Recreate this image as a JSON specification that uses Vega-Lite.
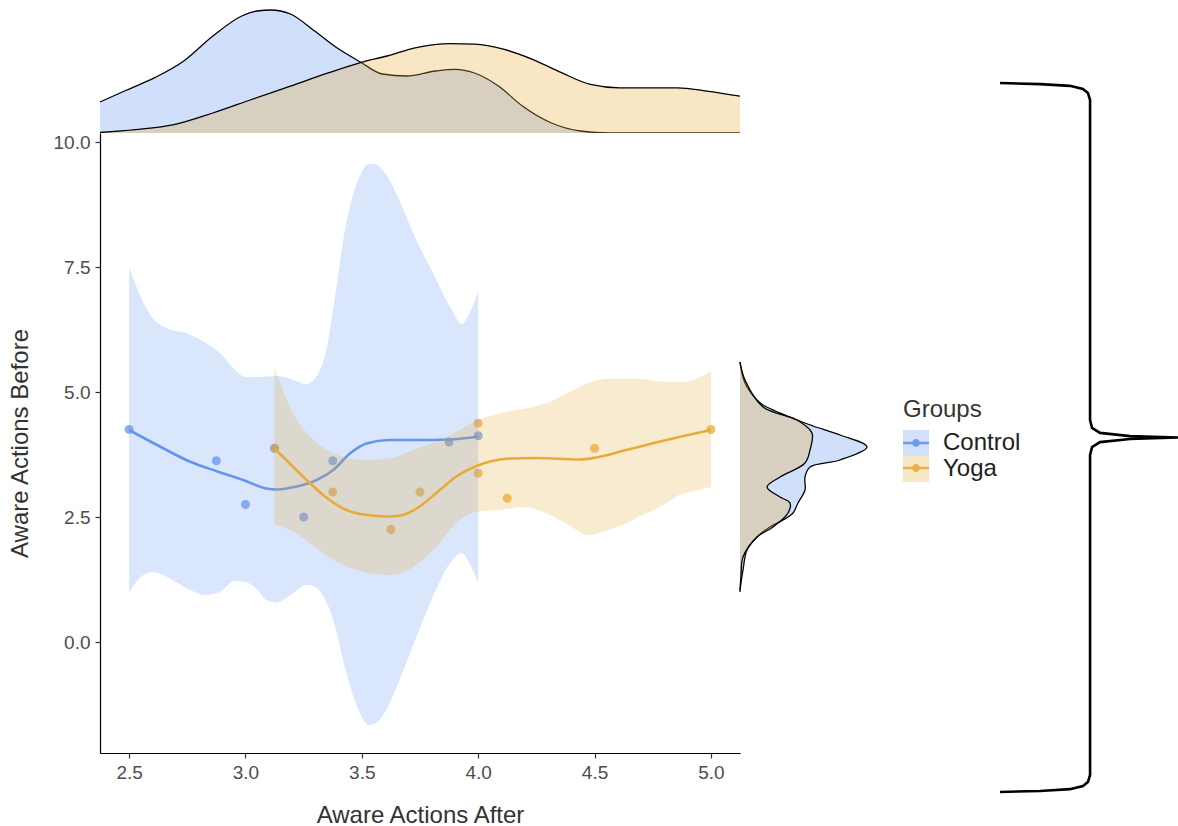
{
  "$schema": "https://vega.github.io/schema/vega-lite/v6.json",
  "padding": {"left": 8, "top": 0, "right": 0, "bottom": 0},
  "background": "white",
  "config": {
    "font": "Liberation Sans",
    "view": {"stroke": null},
    "axis": {
      "domainColor": "#000000", "domainWidth": 1.2,
      "tickColor": "#333333", "tickWidth": 1.2, "tickSize": 5,
      "labelColor": "#4D4D4D", "labelFontSize": 19, "labelPadding": 5,
      "titleFontSize": 24, "titleColor": "#333333", "titleFontWeight": "normal",
      "grid": false
    },
    "axisX": {"titlePadding": 21},
    "axisY": {"titlePadding": 21}
  },
  "datasets": {
    "pts": [
      {"x": 2.5, "y": 4.25, "group": "Control"},
      {"x": 2.875, "y": 3.625, "group": "Control"},
      {"x": 3.0, "y": 2.75, "group": "Control"},
      {"x": 3.125, "y": 3.875, "group": "Control"},
      {"x": 3.25, "y": 2.5, "group": "Control"},
      {"x": 3.375, "y": 3.625, "group": "Control"},
      {"x": 3.875, "y": 4.0, "group": "Control"},
      {"x": 4.0, "y": 4.125, "group": "Control"},
      {"x": 3.125, "y": 3.875, "group": "Yoga"},
      {"x": 3.375, "y": 3.0, "group": "Yoga"},
      {"x": 3.625, "y": 2.25, "group": "Yoga"},
      {"x": 3.75, "y": 3.0, "group": "Yoga"},
      {"x": 4.0, "y": 4.375, "group": "Yoga"},
      {"x": 4.0, "y": 3.375, "group": "Yoga"},
      {"x": 4.125, "y": 2.875, "group": "Yoga"},
      {"x": 4.5, "y": 3.875, "group": "Yoga"},
      {"x": 5.0, "y": 4.25, "group": "Yoga"}
    ],
    "fit": [
      {"x": 2.5, "y": 4.24, "group": "Control"},
      {"x": 2.62, "y": 3.94, "group": "Control"},
      {"x": 2.76, "y": 3.61, "group": "Control"},
      {"x": 2.88, "y": 3.41, "group": "Control"},
      {"x": 2.99, "y": 3.24, "group": "Control"},
      {"x": 3.09, "y": 3.07, "group": "Control"},
      {"x": 3.134, "y": 3.05, "group": "Control"},
      {"x": 3.22, "y": 3.11, "group": "Control"},
      {"x": 3.306, "y": 3.24, "group": "Control"},
      {"x": 3.377, "y": 3.44, "group": "Control"},
      {"x": 3.449, "y": 3.77, "group": "Control"},
      {"x": 3.52, "y": 3.97, "group": "Control"},
      {"x": 3.62, "y": 4.04, "group": "Control"},
      {"x": 3.735, "y": 4.04, "group": "Control"},
      {"x": 3.878, "y": 4.05, "group": "Control"},
      {"x": 4.0, "y": 4.11, "group": "Control"},
      {"x": 3.125, "y": 3.87, "group": "Yoga"},
      {"x": 3.19, "y": 3.57, "group": "Yoga"},
      {"x": 3.263, "y": 3.24, "group": "Yoga"},
      {"x": 3.334, "y": 2.94, "group": "Yoga"},
      {"x": 3.42, "y": 2.67, "group": "Yoga"},
      {"x": 3.52, "y": 2.54, "group": "Yoga"},
      {"x": 3.62, "y": 2.51, "group": "Yoga"},
      {"x": 3.677, "y": 2.54, "group": "Yoga"},
      {"x": 3.749, "y": 2.71, "group": "Yoga"},
      {"x": 3.835, "y": 3.04, "group": "Yoga"},
      {"x": 3.906, "y": 3.31, "group": "Yoga"},
      {"x": 3.992, "y": 3.52, "group": "Yoga"},
      {"x": 4.06, "y": 3.62, "group": "Yoga"},
      {"x": 4.135, "y": 3.67, "group": "Yoga"},
      {"x": 4.25, "y": 3.68, "group": "Yoga"},
      {"x": 4.436, "y": 3.65, "group": "Yoga"},
      {"x": 4.507, "y": 3.69, "group": "Yoga"},
      {"x": 4.636, "y": 3.84, "group": "Yoga"},
      {"x": 4.836, "y": 4.07, "group": "Yoga"},
      {"x": 5.0, "y": 4.24, "group": "Yoga"}
    ],
    "band": [
      {"x": 2.5, "lo": 1.0, "hi": 7.5, "group": "Control"},
      {"x": 2.55, "lo": 1.3, "hi": 6.9, "group": "Control"},
      {"x": 2.6, "lo": 1.4, "hi": 6.48, "group": "Control"},
      {"x": 2.66, "lo": 1.31, "hi": 6.28, "group": "Control"},
      {"x": 2.75, "lo": 1.07, "hi": 6.17, "group": "Control"},
      {"x": 2.83, "lo": 0.94, "hi": 5.98, "group": "Control"},
      {"x": 2.89, "lo": 1.0, "hi": 5.78, "group": "Control"},
      {"x": 2.95, "lo": 1.22, "hi": 5.47, "group": "Control"},
      {"x": 3.0, "lo": 1.2, "hi": 5.3, "group": "Control"},
      {"x": 3.05, "lo": 1.05, "hi": 5.3, "group": "Control"},
      {"x": 3.09, "lo": 0.84, "hi": 5.31, "group": "Control"},
      {"x": 3.13, "lo": 0.79, "hi": 5.32, "group": "Control"},
      {"x": 3.2, "lo": 0.96, "hi": 5.25, "group": "Control"},
      {"x": 3.26, "lo": 1.14, "hi": 5.16, "group": "Control"},
      {"x": 3.3, "lo": 1.1, "hi": 5.28, "group": "Control"},
      {"x": 3.35, "lo": 0.78, "hi": 5.9, "group": "Control"},
      {"x": 3.38, "lo": 0.4, "hi": 6.75, "group": "Control"},
      {"x": 3.43, "lo": -0.55, "hi": 8.3, "group": "Control"},
      {"x": 3.49, "lo": -1.4, "hi": 9.3, "group": "Control"},
      {"x": 3.53, "lo": -1.66, "hi": 9.56, "group": "Control"},
      {"x": 3.56, "lo": -1.62, "hi": 9.55, "group": "Control"},
      {"x": 3.6, "lo": -1.4, "hi": 9.38, "group": "Control"},
      {"x": 3.66, "lo": -0.78, "hi": 8.85, "group": "Control"},
      {"x": 3.73, "lo": 0.05, "hi": 8.08, "group": "Control"},
      {"x": 3.8, "lo": 0.85, "hi": 7.43, "group": "Control"},
      {"x": 3.88, "lo": 1.58, "hi": 6.7, "group": "Control"},
      {"x": 3.93, "lo": 1.78, "hi": 6.36, "group": "Control"},
      {"x": 3.96, "lo": 1.6, "hi": 6.55, "group": "Control"},
      {"x": 4.0, "lo": 1.17, "hi": 7.0, "group": "Control"},
      {"x": 3.125, "lo": 2.34, "hi": 5.5, "group": "Yoga"},
      {"x": 3.16, "lo": 2.3, "hi": 5.04, "group": "Yoga"},
      {"x": 3.205, "lo": 2.21, "hi": 4.57, "group": "Yoga"},
      {"x": 3.28, "lo": 1.97, "hi": 4.1, "group": "Yoga"},
      {"x": 3.38, "lo": 1.64, "hi": 3.77, "group": "Yoga"},
      {"x": 3.5, "lo": 1.41, "hi": 3.64, "group": "Yoga"},
      {"x": 3.62, "lo": 1.34, "hi": 3.67, "group": "Yoga"},
      {"x": 3.72, "lo": 1.5, "hi": 3.84, "group": "Yoga"},
      {"x": 3.82, "lo": 1.9, "hi": 4.0, "group": "Yoga"},
      {"x": 3.92, "lo": 2.44, "hi": 4.24, "group": "Yoga"},
      {"x": 4.0, "lo": 2.61, "hi": 4.44, "group": "Yoga"},
      {"x": 4.09, "lo": 2.64, "hi": 4.57, "group": "Yoga"},
      {"x": 4.2, "lo": 2.7, "hi": 4.67, "group": "Yoga"},
      {"x": 4.29, "lo": 2.58, "hi": 4.77, "group": "Yoga"},
      {"x": 4.38, "lo": 2.37, "hi": 4.97, "group": "Yoga"},
      {"x": 4.47, "lo": 2.14, "hi": 5.17, "group": "Yoga"},
      {"x": 4.56, "lo": 2.24, "hi": 5.27, "group": "Yoga"},
      {"x": 4.66, "lo": 2.43, "hi": 5.27, "group": "Yoga"},
      {"x": 4.71, "lo": 2.55, "hi": 5.26, "group": "Yoga"},
      {"x": 4.78, "lo": 2.7, "hi": 5.21, "group": "Yoga"},
      {"x": 4.88, "lo": 2.97, "hi": 5.2, "group": "Yoga"},
      {"x": 4.91, "lo": 3.0, "hi": 5.22, "group": "Yoga"},
      {"x": 5.0, "lo": 3.1, "hi": 5.42, "group": "Yoga"}
    ],
    "topdens": [
      {"x": 2.375, "d": 0.31, "group": "Control"},
      {"x": 2.49, "d": 0.43, "group": "Control"},
      {"x": 2.61, "d": 0.553, "group": "Control"},
      {"x": 2.735, "d": 0.72, "group": "Control"},
      {"x": 2.86, "d": 0.97, "group": "Control"},
      {"x": 2.984, "d": 1.17, "group": "Control"},
      {"x": 3.05, "d": 1.22, "group": "Control"},
      {"x": 3.109, "d": 1.23, "group": "Control"},
      {"x": 3.193, "d": 1.19, "group": "Control"},
      {"x": 3.297, "d": 1.02, "group": "Control"},
      {"x": 3.401, "d": 0.84, "group": "Control"},
      {"x": 3.494, "d": 0.71, "group": "Control"},
      {"x": 3.588, "d": 0.59, "group": "Control"},
      {"x": 3.692, "d": 0.57, "group": "Control"},
      {"x": 3.817, "d": 0.62, "group": "Control"},
      {"x": 3.9, "d": 0.636, "group": "Control"},
      {"x": 3.984, "d": 0.6, "group": "Control"},
      {"x": 4.087, "d": 0.47, "group": "Control"},
      {"x": 4.19, "d": 0.27, "group": "Control"},
      {"x": 4.315, "d": 0.1, "group": "Control"},
      {"x": 4.439, "d": 0.02, "group": "Control"},
      {"x": 4.566, "d": 0.0, "group": "Control"},
      {"x": 5.125, "d": 0.0, "group": "Control"},
      {"x": 2.375, "d": 0.005, "group": "Yoga"},
      {"x": 2.527, "d": 0.034, "group": "Yoga"},
      {"x": 2.693, "d": 0.084, "group": "Yoga"},
      {"x": 2.86, "d": 0.2, "group": "Yoga"},
      {"x": 3.026, "d": 0.335, "group": "Yoga"},
      {"x": 3.193, "d": 0.469, "group": "Yoga"},
      {"x": 3.359, "d": 0.603, "group": "Yoga"},
      {"x": 3.494, "d": 0.704, "group": "Yoga"},
      {"x": 3.609, "d": 0.77, "group": "Yoga"},
      {"x": 3.734, "d": 0.854, "group": "Yoga"},
      {"x": 3.879, "d": 0.894, "group": "Yoga"},
      {"x": 3.984, "d": 0.888, "group": "Yoga"},
      {"x": 4.108, "d": 0.838, "group": "Yoga"},
      {"x": 4.233, "d": 0.737, "group": "Yoga"},
      {"x": 4.358, "d": 0.603, "group": "Yoga"},
      {"x": 4.482, "d": 0.486, "group": "Yoga"},
      {"x": 4.607, "d": 0.452, "group": "Yoga"},
      {"x": 4.733, "d": 0.452, "group": "Yoga"},
      {"x": 4.857, "d": 0.452, "group": "Yoga"},
      {"x": 4.982, "d": 0.419, "group": "Yoga"},
      {"x": 5.125, "d": 0.368, "group": "Yoga"}
    ],
    "rightdens": [
      {"v": 5.6, "d": 0.0, "group": "Control"},
      {"v": 5.18, "d": 0.05, "group": "Control"},
      {"v": 4.84, "d": 0.17, "group": "Control"},
      {"v": 4.74, "d": 0.23, "group": "Control"},
      {"v": 4.44, "d": 0.57, "group": "Control"},
      {"v": 4.32, "d": 0.73, "group": "Control"},
      {"v": 4.14, "d": 1.0, "group": "Control"},
      {"v": 3.9, "d": 1.27, "group": "Control"},
      {"v": 3.64, "d": 1.0, "group": "Control"},
      {"v": 3.5, "d": 0.7, "group": "Control"},
      {"v": 3.3, "d": 0.65, "group": "Control"},
      {"v": 3.04, "d": 0.65, "group": "Control"},
      {"v": 2.78, "d": 0.58, "group": "Control"},
      {"v": 2.58, "d": 0.53, "group": "Control"},
      {"v": 2.44, "d": 0.43, "group": "Control"},
      {"v": 2.3, "d": 0.3, "group": "Control"},
      {"v": 2.1, "d": 0.17, "group": "Control"},
      {"v": 1.84, "d": 0.07, "group": "Control"},
      {"v": 1.44, "d": 0.03, "group": "Control"},
      {"v": 1.04, "d": 0.0, "group": "Control"},
      {"v": 5.6, "d": 0.0, "group": "Yoga"},
      {"v": 5.24, "d": 0.05, "group": "Yoga"},
      {"v": 4.7, "d": 0.23, "group": "Yoga"},
      {"v": 4.44, "d": 0.57, "group": "Yoga"},
      {"v": 4.18, "d": 0.72, "group": "Yoga"},
      {"v": 3.84, "d": 0.7, "group": "Yoga"},
      {"v": 3.58, "d": 0.65, "group": "Yoga"},
      {"v": 3.3, "d": 0.4, "group": "Yoga"},
      {"v": 3.1, "d": 0.27, "group": "Yoga"},
      {"v": 2.9, "d": 0.4, "group": "Yoga"},
      {"v": 2.78, "d": 0.5, "group": "Yoga"},
      {"v": 2.58, "d": 0.48, "group": "Yoga"},
      {"v": 2.3, "d": 0.33, "group": "Yoga"},
      {"v": 2.1, "d": 0.17, "group": "Yoga"},
      {"v": 1.7, "d": 0.03, "group": "Yoga"},
      {"v": 1.34, "d": 0.01, "group": "Yoga"},
      {"v": 1.0, "d": 0.0, "group": "Yoga"}
    ],
    "brace": [
      {"i": 0, "bx": 0, "by": 1.0},
      {"i": 1, "bx": 0.225, "by": 0.997},
      {"i": 2, "bx": 0.393, "by": 0.992},
      {"i": 3, "bx": 0.466, "by": 0.983},
      {"i": 4, "bx": 0.494, "by": 0.972},
      {"i": 5, "bx": 0.506, "by": 0.952},
      {"i": 6, "bx": 0.506, "by": 0.049},
      {"i": 7, "bx": 0.517, "by": 0.027},
      {"i": 8, "bx": 0.562, "by": 0.013},
      {"i": 9, "bx": 0.73, "by": 0.004},
      {"i": 10, "bx": 1.0, "by": 0.0},
      {"i": 11, "bx": 0.73, "by": -0.004},
      {"i": 12, "bx": 0.562, "by": -0.013},
      {"i": 13, "bx": 0.517, "by": -0.027},
      {"i": 14, "bx": 0.506, "by": -0.049},
      {"i": 15, "bx": 0.506, "by": -0.952},
      {"i": 16, "bx": 0.494, "by": -0.972},
      {"i": 17, "bx": 0.466, "by": -0.983},
      {"i": 18, "bx": 0.393, "by": -0.992},
      {"i": 19, "bx": 0.225, "by": -0.997},
      {"i": 20, "bx": 0, "by": -1.0}
    ]
  },
  "spacing": 0,
  "bounds": "flush",
  "vconcat": [
    {
      "width": 640,
      "height": 133,
      "data": {"name": "topdens"},
      "encoding": {
        "x": {"field": "x", "type": "quantitative", "scale": {"domain": [2.375, 5.125], "nice": false, "zero": false}, "axis": null},
        "y": {"field": "d", "type": "quantitative", "scale": {"domain": [0, 1.33], "nice": false}, "axis": null}
      },
      "layer": [
        {"transform": [{"filter": "datum.group === 'Control'"}], "mark": {"type": "area", "color": "#6495ED", "opacity": 0.3, "clip": true, "interpolate": "monotone"}},
        {"transform": [{"filter": "datum.group === 'Control'"}], "mark": {"type": "line", "color": "#000000", "strokeWidth": 1.3, "clip": true, "interpolate": "monotone"}},
        {"transform": [{"filter": "datum.group === 'Yoga'"}], "mark": {"type": "area", "color": "#E8AB3A", "opacity": 0.3, "clip": true, "interpolate": "monotone"}},
        {"transform": [{"filter": "datum.group === 'Yoga'"}], "mark": {"type": "line", "color": "#000000", "strokeWidth": 1.3, "clip": true, "interpolate": "monotone"}}
      ]
    },
    {
      "spacing": 0,
      "bounds": "flush",
      "hconcat": [
        {
          "width": 640,
          "height": 620,
          "layer": [
            {
              "data": {"name": "pts"},
              "mark": {"type": "point", "filled": true, "size": 80, "opacity": 0.75},
              "encoding": {
                "x": {"field": "x", "type": "quantitative", "scale": {"domain": [2.375, 5.125], "nice": false, "zero": false}, "axis": {"values": [2.5, 3, 3.5, 4, 4.5, 5], "format": ".1f", "title": "Aware Actions After"}},
                "y": {"field": "y", "type": "quantitative", "scale": {"domain": [-2.22, 10.18], "nice": false, "zero": false}, "axis": {"values": [0, 2.5, 5, 7.5, 10], "format": ".1f", "title": "Aware Actions Before"}},
                "color": {"field": "group", "type": "nominal", "scale": {"range": ["#6495ED", "#E8AB3A"]},
                  "legend": {"title": "Groups", "orient": "none", "legendX": 803, "legendY": 398, "symbolType": "M-1,-0.09L1,-0.09L1,0.09L-1,0.09Z M0.3,0A0.3,0.3,0,1,1,-0.3,0A0.3,0.3,0,1,1,0.3,0Z", "symbolSize": 676, "symbolOpacity": 0.9, "symbolStrokeWidth": 0, "labelFontSize": 24, "labelColor": "#222222", "labelOpacity": 0, "titleFontSize": 24, "titleFontWeight": "normal", "titleOpacity": 0, "titlePadding": 8, "rowPadding": 0, "labelOffset": 14}}
              }
            },
            {
              "data": {"name": "band"},
              "transform": [{"filter": "datum.group === 'Control'"}],
              "mark": {"type": "area", "fillOpacity": 0.24, "interpolate": "monotone"},
              "encoding": {
                "x": {"field": "x", "type": "quantitative", "scale": {"domain": [2.375, 5.125], "nice": false, "zero": false}, "axis": {"values": [2.5, 3, 3.5, 4, 4.5, 5], "format": ".1f", "title": "Aware Actions After"}},
                "y": {"field": "lo", "type": "quantitative", "axis": {"values": [0, 2.5, 5, 7.5, 10], "format": ".1f", "title": "Aware Actions Before"}},
                "y2": {"field": "hi"},
                "fill": {"field": "group", "type": "nominal", "scale": {"range": ["#6495ED", "#E8AB3A"]},
                  "legend": {"title": "Groups", "orient": "none", "legendX": 803, "legendY": 398, "symbolType": "square", "symbolSize": 676, "symbolOpacity": 0.28, "symbolStrokeWidth": 0, "labelFontSize": 24, "labelColor": "#222222", "titleFontSize": 24, "titleColor": "#333333", "titleFontWeight": "normal", "titlePadding": 8, "rowPadding": 0, "labelOffset": 14}}
              }
            },
            {
              "data": {"name": "fit"},
              "transform": [{"filter": "datum.group === 'Control'"}],
              "mark": {"type": "line", "color": "#6495ED", "strokeWidth": 2.6, "interpolate": "monotone"},
              "encoding": {
                "x": {"field": "x", "type": "quantitative"},
                "y": {"field": "y", "type": "quantitative"}
              }
            },
            {
              "data": {"name": "band"},
              "transform": [{"filter": "datum.group === 'Yoga'"}],
              "mark": {"type": "area", "fillOpacity": 0.24, "interpolate": "monotone"},
              "encoding": {
                "x": {"field": "x", "type": "quantitative"},
                "y": {"field": "lo", "type": "quantitative"},
                "y2": {"field": "hi"},
                "fill": {"field": "group", "type": "nominal"}
              }
            },
            {
              "data": {"name": "fit"},
              "transform": [{"filter": "datum.group === 'Yoga'"}],
              "mark": {"type": "line", "color": "#E8AB3A", "strokeWidth": 2.6, "interpolate": "monotone"},
              "encoding": {
                "x": {"field": "x", "type": "quantitative"},
                "y": {"field": "y", "type": "quantitative"}
              }
            }
          ]
        },
        {
          "width": 130,
          "height": 620,
          "data": {"name": "rightdens"},
          "encoding": {
            "y": {"field": "v", "type": "quantitative", "scale": {"domain": [-2.22, 10.18], "nice": false, "zero": false}, "axis": null},
            "x": {"field": "d", "type": "quantitative", "scale": {"domain": [0, 1.3], "nice": false}, "axis": null}
          },
          "layer": [
            {"transform": [{"filter": "datum.group === 'Control'"}], "mark": {"type": "area", "orient": "horizontal", "color": "#6495ED", "opacity": 0.3, "interpolate": "monotone"}, "encoding": {"x2": {"datum": 0}}},
            {"transform": [{"filter": "datum.group === 'Control'"}], "mark": {"type": "line", "color": "#000000", "strokeWidth": 1.3, "interpolate": "catmull-rom"}, "encoding": {"order": {"field": "v", "type": "quantitative"}}},
            {"transform": [{"filter": "datum.group === 'Yoga'"}], "mark": {"type": "area", "orient": "horizontal", "color": "#E8AB3A", "opacity": 0.3, "interpolate": "monotone"}, "encoding": {"x2": {"datum": 0}}},
            {"transform": [{"filter": "datum.group === 'Yoga'"}], "mark": {"type": "line", "color": "#000000", "strokeWidth": 1.3, "interpolate": "catmull-rom"}, "encoding": {"order": {"field": "v", "type": "quantitative"}}}
          ]
        },
        {
          "width": 308,
          "height": 620,
          "data": {"name": "brace"},
          "mark": {"type": "line", "color": "#000000", "strokeWidth": 2.6, "clip": false},
          "encoding": {
            "x": {"field": "bx", "type": "quantitative", "scale": {"domain": [-0.7303, 1], "nice": false, "zero": false}, "axis": null},
            "y": {"field": "by", "type": "quantitative", "scale": {"domain": [-0.89, 0.859], "nice": false, "zero": false}, "axis": null},
            "order": {"field": "i", "type": "quantitative"}
          }
        }
      ]
    }
  ]
}
